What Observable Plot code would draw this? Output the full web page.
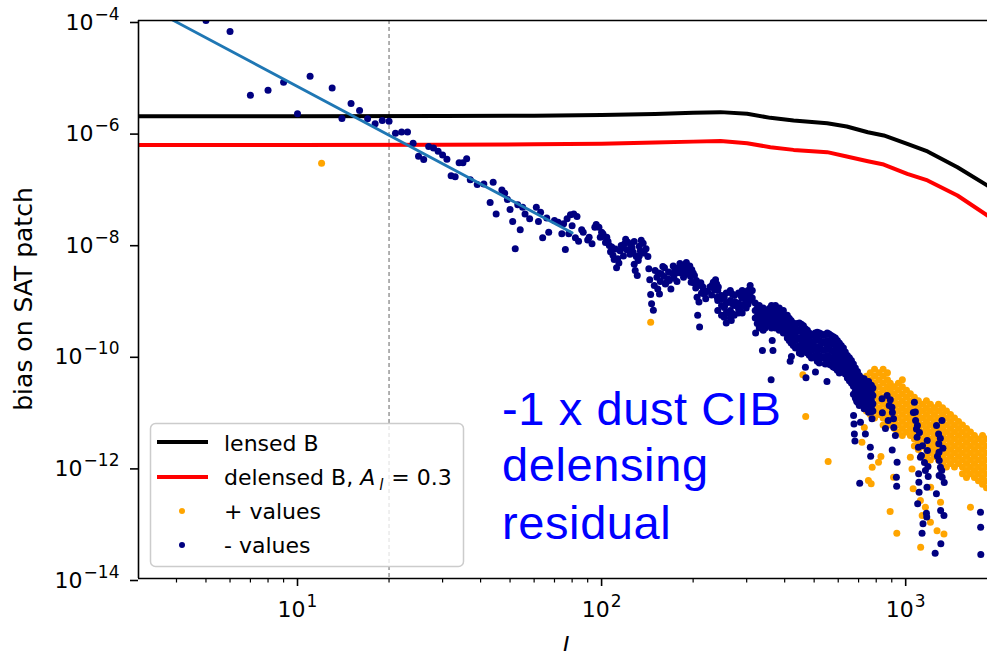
<!DOCTYPE html>
<html>
<head>
<meta charset="utf-8">
<script src="https://cdn.jsdelivr.net/npm/d3@7"></script>
<script src="https://cdn.jsdelivr.net/npm/@observablehq/plot@0.6"></script>
<style>
  html, body { margin: 0; padding: 0; background: #fff; overflow: hidden; }
</style>
</head>
<body>
<script>
// ---------- data ----------
const lineL = [3, 10, 30, 60, 100, 150, 200, 246, 301, 359, 428, 552, 640, 751, 847, 1012, 1180, 1480, 1858];
const lensedB = [1.93e-6, 1.93e-6, 1.95e-6, 1.97e-6, 2.03e-6, 2.12e-6, 2.22e-6, 2.28e-6, 2.13e-6, 1.8e-6, 1.61e-6, 1.44e-6, 1.26e-6, 9.95e-7, 8.7e-7, 6.17e-7, 4.5e-7, 2.35e-7, 1.1e-7];
const delensedB = [5.9e-7, 5.9e-7, 5.95e-7, 6.05e-7, 6.17e-7, 6.5e-7, 6.75e-7, 6.9e-7, 6.3e-7, 5.37e-7, 4.8e-7, 4.37e-7, 3.66e-7, 3.0e-7, 2.62e-7, 1.79e-7, 1.36e-7, 7.3e-8, 3.2e-8];

const fitL = [3, 80];
const fitV = [2.16e-4, 1.57e-8];

const lCut = 20;

// negative values (plotted as |value|), [l, value]
const negLow = [[5,1.0e-4],[6,6.35e-5],[7,4.58e-6],[8,5.64e-6],[9,7.83e-6],[10,2.13e-6],[11,1.0e-5],[13,6.2e-6],[14,1.75e-6],[15,3.26e-6],[16,2.44e-6],[17,1.73e-6],[18,1.41e-6],[19,1.62e-6],[20,1.57e-6],[21,9.5e-7],[22,1.0e-6],[23,1.0e-6],[24,6.3e-7],[25,3.7e-7],[26,3.23e-7],[27,5.5e-7],[28,5.2e-7],[29,4.55e-7],[30,3.9e-7],[31,3.27e-7],[32,1.65e-7],[33,1.58e-7],[34,2.82e-7],[35,2.82e-7],[36,3.33e-7],[37,1.4e-7]];

const negMid = [[39,1.15e-7],[41,1.18e-7],[44,1.26e-7],[47,9.2e-8],[48,8.0e-8],[43,5.5e-8],[45,3.4e-8],[50,4.1e-8],[49,6.2e-8],[53,5.0e-8],[55,4.5e-8],[56,3.4e-8],[51,2.5e-8],[54,1.77e-8],[52,8.1e-9],[58,2.8e-8],[61,4.5e-8],[63,3.67e-8],[62,2.5e-8],[66,2.9e-8],[64,1.28e-8],[67,1.6e-8],[70,2.6e-8],[72,2.43e-8],[75,2.27e-8],[74,1.5e-8],[76,7.9e-9],[77,2.8e-8],[79,3.3e-8],[81,3.4e-8],[83,3.07e-8],[80,2.1e-8],[78,1.5e-8],[82,1.28e-8],[84,1.11e-8],[86,1.77e-8],[87,1.6e-8],[90,1.17e-8],[91,1.31e-8],[93,9.96e-9],[95,1.98e-8],[96,2.2e-8],[98,1.98e-8],[100,1.6e-8],[102,1.35e-8],[104,1.31e-8],[106,9.3e-9],[108,8.7e-9],[109,6.2e-9],[112,3.7e-9],[113,5.4e-9],[116,9.3e-9],[119,1.0e-8],[122,1.06e-8],[125,9.3e-9],[127,7.0e-9],[130,5.9e-9],[132,5.0e-9],[129,3.3e-9],[131,2.7e-9],[134,7.5e-9],[137,1.02e-8],[140,8.1e-9],[142,5.9e-9],[143,3.55e-9],[144,2.25e-9],[145,1.23e-9],[146,8.4e-10],[148,6.4e-10],[149,1.78e-9],[150,3.3e-9],[153,1.55e-9],[155,1.26e-9],[152,2.5e-9],[157,2.9e-9],[161,3.7e-9],[165,2.35e-9],[169,1.55e-9],[171,2.9e-9],[174,3.4e-9],[179,3.7e-9],[183,4.1e-9],[188,3.7e-9],[193,3.1e-9],[198,3.4e-9],[202,2.7e-9],[197,2.04e-9],[205,2.2e-9],[208,1.78e-9],[206,1.1e-9],[209,9.0e-10],[207,5.2e-10],[210,3.2e-10],[216,1.45e-9],[220,1.03e-9],[227,1.67e-9],[233,2.04e-9],[237,2.25e-9],[242,1.67e-9],[248,1.03e-9],[254,7.8e-10],[261,5.9e-10],[267,4.2e-10],[275,9.0e-10],[282,6.8e-10],[289,1.1e-9],[296,8.4e-10],[303,1.45e-9],
 [99,1.3e-8],[101,1.5e-8],[103,1.05e-8],[105,1.1e-8],[107,7.2e-9],[110,5.2e-9],[111,8.0e-9],[114,4.5e-9],[115,7.5e-9],[117,8.5e-9],[118,6.0e-9],[120,1.2e-8],[121,7.8e-9],[124,6.5e-9],[126,8.5e-9],[128,1.1e-8],[128,4.3e-9],[133,9.0e-9],[133,6.0e-9],[135,1.15e-8],[138,6.8e-9],
 [154,3.0e-9],[156,2.1e-9],[159,3.9e-9],[160,2.6e-9],[162,1.9e-9],[163,2.0e-9],[166,3.1e-9],[167,2.2e-9],[172,4.0e-9],[173,2.4e-9],[176,3.0e-9],[177,2.1e-9],[181,4.4e-9],[182,3.0e-9],[185,3.3e-9],[186,2.5e-9],[190,4.6e-9],[191,2.9e-9],[195,4.0e-9],[196,2.6e-9],[200,3.0e-9],[201,2.0e-9],[204,1.6e-9],[212,2.0e-9],[213,1.3e-9],[215,1.7e-9],[218,1.25e-9],[223,1.4e-9],[230,1.2e-9],[231,1.8e-9],[235,1.5e-9],[239,1.9e-9],[240,1.1e-9]];

// dense part: [l, values...]
const negBand = [
 [241,1.45e-9,9.6e-10,6.35e-10],[248,1.18e-9,7.8e-10,5.2e-10],[257,1.31e-9,8.65e-10,5.7e-10,3.8e-10],
 [265,1.45e-9,9.6e-10,6.35e-10,4.65e-10],[273,1.18e-9,7.8e-10,5.2e-10],[282,1.31e-9,8.65e-10,5.7e-10],
 [290,1.45e-9,1.06e-9,7.8e-10,5.7e-10],[299,1.31e-9,9.6e-10,7.05e-10],[308,1.78e-9,1.31e-9,9.6e-10],
 [313,1.45e-9,1.06e-9],[320,8.65e-10,6.35e-10,4.65e-10],[330,7.8e-10,5.7e-10,4.2e-10,3.1e-10],
 [340,7.05e-10,5.2e-10,3.8e-10,2.8e-10],[350,6.35e-10,4.65e-10,3.4e-10],[362,7.8e-10,5.7e-10,4.2e-10,3.1e-10],
 [373,7.8e-10,5.7e-10,4.2e-10,3.1e-10],[384,7.05e-10,5.2e-10,3.8e-10,2.8e-10],[396,6.35e-10,4.65e-10,3.4e-10,2.5e-10],
 [408,5.2e-10,3.8e-10,2.8e-10,2.04e-10],[420,4.2e-10,3.1e-10,2.26e-10,1.66e-10],[434,3.4e-10,2.5e-10,1.84e-10,1.35e-10],
 [447,3.8e-10,2.8e-10,2.04e-10,1.5e-10,1.1e-10],[461,3.4e-10,2.5e-10,1.84e-10,1.35e-10],[475,2.8e-10,2.04e-10,1.5e-10,1.1e-10],
 [490,2.26e-10,1.66e-10,1.22e-10,8.95e-11],[504,2.5e-10,1.84e-10,1.35e-10,9.9e-11],[520,2.5e-10,1.84e-10,1.35e-10,9.9e-11,7.3e-11],
 [536,2.26e-10,1.66e-10,1.22e-10,8.95e-11],[552,2.5e-10,1.84e-10,1.35e-10,9.9e-11,7.3e-11],[569,2.26e-10,1.66e-10,1.22e-10,8.95e-11,6.6e-11],
 [587,2.04e-10,1.5e-10,1.1e-10,8.1e-11,5.9e-11],[605,1.66e-10,1.22e-10,8.95e-11,6.6e-11,4.8e-11],[624,1.35e-10,9.9e-11,7.3e-11,5.3e-11],
 [643,9.9e-11,7.3e-11,5.3e-11,3.9e-11],[663,8.1e-11,5.9e-11,4.35e-11,3.2e-11],[683,5.9e-11,4.35e-11,3.2e-11,2.3e-11,1.72e-11],
 [704,4.35e-11,3.2e-11,2.3e-11,1.72e-11,1.26e-11],[726,3.5e-11,2.6e-11,1.9e-11,1.4e-11],[748,3.2e-11,2.3e-11,1.72e-11,1.26e-11],
 [771,2.9e-11,2.1e-11,1.55e-11,1.14e-11],
 [253,1.1e-9,7.2e-10,4.8e-10],[269,1.25e-9,8.4e-10,5.6e-10],[286,1.2e-9,8.0e-10,6.2e-10],[303,1.1e-9,8.2e-10],
 [325,7.0e-10,5.0e-10,3.7e-10],[335,6.6e-10,4.8e-10,3.5e-10],[345,6.0e-10,4.3e-10,3.1e-10],[356,6.9e-10,5.0e-10,3.7e-10],
 [367,6.7e-10,4.9e-10,3.6e-10],[378,6.6e-10,4.8e-10,3.4e-10],[390,5.8e-10,4.2e-10,3.0e-10],[402,5.3e-10,3.9e-10,2.9e-10],
 [414,4.6e-10,3.4e-10,2.5e-10,1.85e-10],[427,3.8e-10,2.8e-10,2.0e-10,1.5e-10],[440,3.7e-10,2.7e-10,1.95e-10,1.43e-10],
 [454,3.6e-10,2.65e-10,1.9e-10,1.4e-10,1.05e-10],[468,3.0e-10,2.2e-10,1.6e-10,1.2e-10],[482,2.5e-10,1.85e-10,1.35e-10,1.0e-10],
 [497,2.35e-10,1.75e-10,1.28e-10,9.4e-11],[512,2.6e-10,1.95e-10,1.42e-10,1.04e-10,7.8e-11],[528,2.4e-10,1.75e-10,1.28e-10,9.4e-11],
 [544,2.35e-10,1.72e-10,1.27e-10,9.3e-11,7.0e-11],[560,2.4e-10,1.75e-10,1.28e-10,9.4e-11,6.9e-11],[578,2.15e-10,1.58e-10,1.16e-10,8.5e-11,6.2e-11],
 [596,1.85e-10,1.36e-10,1.0e-10,7.3e-11,5.4e-11],[614,1.5e-10,1.1e-10,8.1e-11,6.0e-11],[633,1.15e-10,8.5e-11,6.2e-11,4.6e-11],
 [653,9.0e-11,6.6e-11,4.8e-11,3.5e-11],[673,7.0e-11,5.1e-11,3.8e-11,2.8e-11,2.0e-11],[694,5.1e-11,3.7e-11,2.7e-11,2.0e-11,1.45e-11],
 [715,3.9e-11,2.9e-11,2.1e-11,1.55e-11],[737,3.4e-11,2.5e-11,1.8e-11,1.32e-11],[759,3.0e-11,2.2e-11,1.62e-11,1.2e-11],
 [690,4.0e-11,2.9e-11,2.1e-11,1.5e-11],[700,3.6e-11,2.6e-11,1.9e-11,1.4e-11],[730,3.8e-11,2.8e-11,2.0e-11,1.45e-11,1.1e-11],
 [755,3.4e-11,2.5e-11,1.8e-11,1.3e-11,9.5e-12],[780,2.6e-11,1.9e-11,1.35e-11,1.0e-11]
];

const negTail = [[321,2.5e-10],[338,1.22e-10],[364,1.84e-10],[366,1.22e-10],[361,3.64e-11],[417,7.8e-11],[421,9.5e-11],[468,6.1e-11],[470,3.95e-11],[505,5.0e-11],[551,3.4e-11],[594,5.8e-11],
 [674,8.3e-12],[676,5.9e-12],[678,3.9e-12],[681,2.9e-12],[710,6.3e-12],[737,3.9e-12],[765,2.25e-12],[767,1.55e-12],[775,7.3e-12],[773,9.8e-12],[706,5.1e-13],
 [836,1.66e-11],[838,9.3e-12],[890,1.6e-11],[901,1.17e-11],[912,7.3e-12],[914,5.1e-12],[925,3.65e-12],[903,2.0e-12],[937,1.21e-12],[932,6.5e-13],[934,4.5e-13],
 [1076,9.6e-12],[1078,6.8e-12],[1085,4.8e-12],[1090,3.4e-12],[1101,2.25e-12],[1118,1.49e-12],[1103,7.5e-13],[1105,5.3e-13],[1107,3.5e-13],[1095,2.18e-13],
 [1177,2.97e-12],[1179,1.97e-12],[1184,1.02e-12],[1186,6.7e-13],[1175,4.3e-13],[1170,1.48e-13],[1173,1.26e-13],[1140,9.6e-14],[1132,6.5e-14],
 [1316,6.8e-12],[1283,3.9e-12],[1285,2.6e-12],[1287,1.83e-12],[1289,1.3e-12],[1301,9.9e-13],[1318,6.5e-13],[1262,3.3e-13],[1303,1.65e-13],[1336,1.35e-13],[1305,4.2e-14],[1250,2.84e-14],
 [1762,1.54e-13],[1764,8.3e-14],[1766,2.7e-14],
 [869,1.9e-11],[883,1.26e-11],[904,9.4e-12],[876,6.8e-12],[858,4.9e-12],
 [1060,9.4e-12],[1068,1.44e-11],[1093,5.5e-12],[1110,4.15e-12],[1136,2.4e-12],[1127,1.6e-12],[1153,1.2e-12],[1161,8.6e-13],
 [1263,5.5e-12],[1300,3.25e-12],[1326,2.15e-12],[1272,1.55e-12],[1314,8.6e-13],[1339,5.25e-13],[1288,7.0e-13]];

// positive values, [l, value]
const posScatter = [[12,2.77e-7],[145,3.9e-10],[469,8.0e-12],[556,1.25e-12],[459,4.5e-11],
 [731,5.1e-12],[718,2.77e-12],[776,9.9e-13],[814,1.21e-12],[829,1.53e-12],[754,5.7e-13],[770,5.0e-13],[889,1.59e-13],[935,6.5e-14],[912,6.5e-13],
 [1036,1.49e-12],[1049,9.2e-13],[1058,4.05e-13],[1118,2.5e-13],[1120,3.64e-14],[1133,1.35e-13],[1206,1.02e-13],[1268,7.2e-14],[1336,6.3e-14],
 [1302,2.33e-13],[1208,4.3e-13],[1633,1.9e-13],[1161,1.9e-13]];

const posBand = [
 [704,4.22e-11,3.16e-11,2.37e-11,1.78e-11],
 [721,3.65e-11,2.74e-11,2.05e-11,1.54e-11],
 [743,4.22e-11,3.16e-11,2.37e-11,1.78e-11,1.33e-11,1.0e-11],
 [765,4.87e-11,3.65e-11,2.74e-11,2.05e-11,1.54e-11,1.15e-11,8.66e-12],
 [790,5.62e-11,4.22e-11,3.16e-11,2.37e-11,1.78e-11,1.33e-11,1.0e-11,7.5e-12],
 [817,4.87e-11,3.65e-11,2.74e-11,2.05e-11,1.54e-11,1.15e-11,8.66e-12],
 [843,5.62e-11,4.22e-11,3.16e-11,2.37e-11,1.78e-11,1.33e-11,1.0e-11,7.5e-12,5.62e-12],
 [871,4.87e-11,3.65e-11,2.74e-11,2.05e-11,1.54e-11,1.15e-11,8.66e-12,6.49e-12],
 [890,3.16e-11,2.37e-11,1.78e-11,1.33e-11,1.0e-11,7.5e-12,5.62e-12],
 [918,2.74e-11,2.05e-11,1.54e-11,1.15e-11,8.66e-12,6.49e-12,4.87e-12],
 [946,3.16e-11,2.37e-11,1.78e-11,1.33e-11,1.0e-11,7.5e-12,5.62e-12,4.22e-12],
 [975,3.65e-11,2.74e-11,2.05e-11,1.54e-11,1.15e-11,8.66e-12,6.49e-12,4.87e-12,3.65e-12],
 [1006,2.37e-11,1.78e-11,1.33e-11,1.0e-11,7.5e-12,5.62e-12,4.22e-12],
 [1036,2.05e-11,1.54e-11,1.15e-11,8.66e-12,6.49e-12,4.87e-12,3.65e-12],
 [1068,1.78e-11,1.33e-11,1.0e-11,7.5e-12,5.62e-12,4.22e-12,3.16e-12,2.37e-12],
 [1101,1.54e-11,1.15e-11,8.66e-12,6.49e-12,4.87e-12,3.65e-12,2.74e-12,2.05e-12],
 [1136,1.33e-11,1.0e-11,7.5e-12,5.62e-12,4.22e-12,3.16e-12,2.37e-12],
 [1170,1.54e-11,1.15e-11,8.66e-12,6.49e-12,4.87e-12,3.65e-12,2.74e-12,2.05e-12,1.54e-12],
 [1206,1.33e-11,1.0e-11,7.5e-12,5.62e-12,4.22e-12,3.16e-12,2.37e-12,1.78e-12,1.33e-12],
 [1243,1.15e-11,8.66e-12,6.49e-12,4.87e-12,3.65e-12,2.74e-12,2.05e-12,1.54e-12],
 [1282,1.33e-11,1.0e-11,7.5e-12,5.62e-12,4.22e-12,3.16e-12,2.37e-12,1.78e-12,1.33e-12],
 [1322,1.15e-11,8.66e-12,6.49e-12,4.87e-12,3.65e-12,2.74e-12,2.05e-12,1.54e-12,1.15e-12],
 [1362,1.0e-11,7.5e-12,5.62e-12,4.22e-12,3.16e-12,2.37e-12,1.78e-12,1.33e-12,1.0e-12],
 [1404,8.66e-12,6.49e-12,4.87e-12,3.65e-12,2.74e-12,2.05e-12,1.54e-12,1.15e-12],
 [1447,7.5e-12,5.62e-12,4.22e-12,3.16e-12,2.37e-12,1.78e-12,1.33e-12,1.0e-12],
 [1492,6.49e-12,4.87e-12,3.65e-12,2.74e-12,2.05e-12,1.54e-12,1.15e-12],
 [1537,5.62e-12,4.22e-12,3.16e-12,2.37e-12,1.78e-12,1.33e-12,1.0e-12,7.5e-13],
 [1585,4.87e-12,3.65e-12,2.74e-12,2.05e-12,1.54e-12,1.15e-12,8.66e-13,6.49e-13],
 [1633,4.22e-12,3.16e-12,2.37e-12,1.78e-12,1.33e-12,1.0e-12,7.5e-13],
 [1683,3.65e-12,2.74e-12,2.05e-12,1.54e-12,1.15e-12,8.66e-13,6.49e-13],
 [1735,3.16e-12,2.37e-12,1.78e-12,1.33e-12,1.0e-12,7.5e-13,5.62e-13],
 [1789,3.65e-12,2.74e-12,2.05e-12,1.54e-12,1.15e-12,8.66e-13,6.49e-13,4.87e-13],
 [1844,3.16e-12,2.37e-12,1.78e-12,1.33e-12,1.0e-12,7.5e-13,5.62e-13,4.22e-13]
];

const yTicks = [1e-4, 1e-6, 1e-8, 1e-10, 1e-12, 1e-14];
const xTicks = [10, 100, 1000];
const xMinorTicks = [4,5,6,7,8,9,20,30,40,50,60,70,80,90,200,300,400,500,600,700,800,900];

const legendLabels = ["lensed B", "delensed B, ", "+ values", "- values"];
const annotationLines = ["-1 x dust CIB", "delensing", "residual"];
const yLabel = "bias on SAT patch";
const xLabel = "l";

// ---------- build tables ----------
const expand = band => band.flatMap(([l, ...vs]) => vs.map(v => [l, v]));
const negPts = [...negLow, ...negMid, ...expand(negBand), ...negTail];
const posPts = [...posScatter, ...expand(posBand)];
const lines = lineL.map((l, i) => ({l, lensed: lensedB[i], delensed: delensedB[i]}));
const fit = fitL.map((l, i) => ({l, v: fitV[i]}));

const fmt = d => "10^" + Math.round(Math.log10(d));
const FONT = "DejaVu Sans, Verdana, sans-serif";

const chart = Plot.plot({
  width: 987,
  height: 651,
  marginLeft: 138,
  marginRight: 0,
  marginTop: 20,
  marginBottom: 73,
  style: {fontFamily: FONT, fontSize: "22px", background: "#fff", color: "#000"},
  x: {type: "log", domain: [3, 1858], label: null},
  y: {type: "log", domain: [1e-14, 1e-4], label: null},
  marks: [
    Plot.ruleX([lCut], {stroke: "#888", strokeWidth: 1.3, strokeDasharray: "4,3"}),
    Plot.line(lines, {x: "l", y: "lensed", stroke: "#000", strokeWidth: 4, clip: true}),
    Plot.line(lines, {x: "l", y: "delensed", stroke: "#ff0000", strokeWidth: 4, clip: true}),
    Plot.dot(posPts, {x: d => d[0], y: d => d[1], r: 3.5, fill: "#ffa500", stroke: "none", clip: true}),
    Plot.dot(negPts, {x: d => d[0], y: d => d[1], r: 3.5, fill: "#000080", stroke: "none", clip: true}),
    Plot.line(fit, {x: "l", y: "v", stroke: "#1f77b4", strokeWidth: 2.8, clip: true}),
    Plot.ruleY([1e-14], {stroke: "#000", strokeWidth: 1.6}),
    Plot.ruleY([1e-4], {stroke: "#000", strokeWidth: 1.6}),
    Plot.ruleX([3], {stroke: "#000", strokeWidth: 1.6}),
    Plot.axisY(yTicks, {tickSize: 8, tickPadding: 11, tickFormat: fmt, strokeWidth: 1.6, fontSize: 22, dy: 2, label: null}),
    Plot.axisX(xTicks, {tickSize: 8, tickPadding: 15, tickFormat: fmt, strokeWidth: 1.6, fontSize: 22, label: null}),
    Plot.axisX(xMinorTicks, {tickSize: 4.5, tickFormat: () => "", strokeWidth: 1.2, label: null})
  ]
});

document.body.append(chart);

// superscript exponents on tick labels
const svg = d3.select(chart);
svg.selectAll("text").each(function() {
  const m = /^10\^(-?\d+)$/.exec(this.textContent.trim());
  if (!m) return;
  const t = d3.select(this);
  t.text("");
  t.append("tspan").text("10");
  t.append("tspan").attr("font-size", "17px").attr("dy", -10).attr("dx", 1)
    .text(m[1].replace("-", "\u2212"));
});

// y label
svg.append("text")
  .attr("transform", "translate(32,299) rotate(-90)")
  .attr("text-anchor", "middle")
  .attr("font-family", FONT)
  .attr("font-size", 25)
  .attr("fill", "#000")
  .text(yLabel);

// x label (mostly below the visible window, as in the reference)
svg.append("text")
  .attr("x", 562).attr("y", 655)
  .attr("text-anchor", "start")
  .attr("font-family", FONT).attr("font-style", "italic")
  .attr("font-size", 25).attr("fill", "#000")
  .text(xLabel);

// annotation
const ann = svg.append("g").attr("font-family", "Liberation Sans, Arial, Helvetica, sans-serif")
  .attr("text-anchor", "start")
  .attr("font-size", 47).attr("letter-spacing", "0.6px").attr("fill", "#0000ff");
[425, 481, 539].forEach((y, i) => ann.append("text").attr("x", 502).attr("y", y).text(annotationLines[i]));

// legend
const lg = svg.append("g").attr("font-family", FONT).attr("font-size", 22).attr("fill", "#000")
  .attr("text-anchor", "start");
lg.append("rect").attr("x", 150.5).attr("y", 423.5).attr("width", 313).attr("height", 143).attr("rx", 5)
  .attr("fill", "#fff").attr("fill-opacity", 0.8).attr("stroke", "#cccccc").attr("stroke-width", 1.5);
lg.append("line").attr("x1", 157).attr("x2", 208).attr("y1", 442).attr("y2", 442).attr("stroke", "#000").attr("stroke-width", 4);
lg.append("line").attr("x1", 157).attr("x2", 208).attr("y1", 477).attr("y2", 477).attr("stroke", "#ff0000").attr("stroke-width", 4);
lg.append("circle").attr("cx", 182).attr("cy", 511).attr("r", 3).attr("fill", "#ffa500");
lg.append("circle").attr("cx", 182).attr("cy", 545).attr("r", 3).attr("fill", "#000080");
lg.append("text").attr("x", 224).attr("y", 451).text(legendLabels[0]);
const t2 = lg.append("text").attr("x", 224).attr("y", 485);
t2.append("tspan").text(legendLabels[1]);
t2.append("tspan").attr("font-style", "italic").text("A");
t2.append("tspan").attr("font-style", "italic").attr("font-size", 15).attr("dy", 5).attr("dx", 4).text("l");
t2.append("tspan").attr("dy", -5).attr("dx", 8).text("= 0.3");
lg.append("text").attr("x", 224).attr("y", 519).text(legendLabels[2]);
lg.append("text").attr("x", 224).attr("y", 553).text(legendLabels[3]);
</script>
</body>
</html>
